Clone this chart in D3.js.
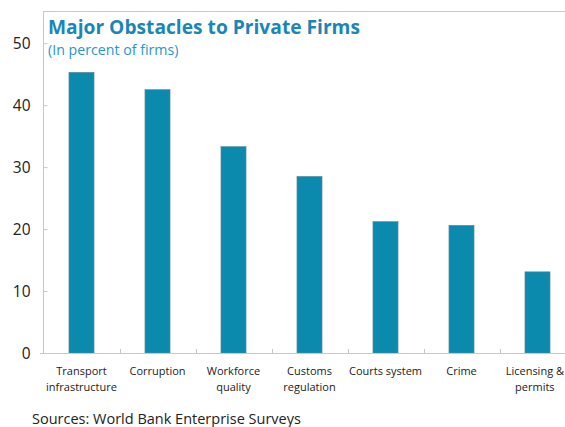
<!DOCTYPE html>
<html><head><meta charset="utf-8">
<script src="https://cdn.jsdelivr.net/npm/d3@7"></script>
<style>body{margin:0;background:#fff;overflow:hidden}svg{display:block}</style>
</head><body>
<script>
const categories = [["Transport","infrastructure"],["Corruption"],["Workforce","quality"],["Customs","regulation"],["Courts system"],["Crime"],["Licensing &","permits"]];
const values = [45.3, 42.5, 33.3, 28.5, 21.2, 20.6, 13.1];
const yTicks = [0,10,20,30,40,50];

const W=565,H=427;
const svg=d3.select("body").append("svg").attr("width",W).attr("height",H);
const font="'Open Sans', 'Noto Sans', sans-serif";
const blue="#1a86b8";
const mLeft=43, mRight=575, mTop=11, mBottom=353;

const y=d3.scaleLinear().domain([0,50]).range([mBottom,43.2]);
const x=d3.scaleBand().domain(d3.range(categories.length)).range([mLeft+0.5,mRight+0.5]).paddingInner(0.67).paddingOuter(0.335);
const step=x.step();

// frame
svg.append("line").attr("x1",mLeft).attr("x2",W).attr("y1",mTop+0.5).attr("y2",mTop+0.5).attr("stroke","#c8c8c8").attr("stroke-width",1);
svg.append("line").attr("x1",mLeft+0.5).attr("x2",mLeft+0.5).attr("y1",mTop).attr("y2",mBottom).attr("stroke","#c8c8c8");

// bars
svg.selectAll("rect.bar").data(values).join("rect")
  .attr("x",(d,i)=>x(i)).attr("width",x.bandwidth())
  .attr("y",d=>y(d)).attr("height",d=>mBottom-y(d))
  .attr("fill","#0b8aad").attr("stroke","#5e8a99").attr("stroke-width",0.6);

// y axis
const ya=svg.append("g").attr("transform",`translate(${mLeft+0.5},0)`)
 .call(d3.axisRight(y).tickValues(yTicks).tickSize(4).tickFormat(d3.format("d")));
ya.select(".domain").remove();
ya.selectAll("line").attr("stroke","#c8c8c8");
ya.selectAll("text").attr("x",-13).attr("text-anchor","end").attr("dy","0.35em")
 .style("font-family",font).style("font-size","15.5px").attr("fill","#222");

// x axis
svg.append("line").attr("x1",40).attr("x2",W).attr("y1",mBottom+0.5).attr("y2",mBottom+0.5).attr("stroke","#c8c8c8");
const bounds=d3.range(categories.length).map(i=>x(i)+x.bandwidth()/2+step/2);
svg.selectAll("line.xt").data(bounds).join("line").attr("class","xt")
 .attr("x1",d=>Math.round(d)+0.5).attr("x2",d=>Math.round(d)+0.5).attr("y1",mBottom).attr("y2",mBottom-4).attr("stroke","#c8c8c8");

svg.selectAll("text.cat").data(categories).join("text").attr("class","cat")
 .attr("x",(d,i)=>x(i)+x.bandwidth()/2).attr("y",375)
 .attr("text-anchor","middle").style("font-family",font).style("font-size","11px").attr("fill","#222")
 .each(function(d){
   const t=d3.select(this);
   d.forEach((s,j)=>t.append("tspan").attr("x",t.attr("x")).attr("dy",j?16:0).text(s));
   // keep the label inside the window
   const bb=this.getBBox();
   const over=bb.x+bb.width-(W-1);
   if(over>0){const nx=+t.attr("x")-over;t.attr("x",nx);t.selectAll("tspan").attr("x",nx);}
 });

// titles
svg.append("text").attr("x",48).attr("y",34).text("Major Obstacles to Private Firms")
 .style("font-family",font).style("font-size","19.2px").style("font-weight","bold").attr("fill",blue);
svg.append("text").attr("x",48).attr("y",55).text("(In percent of firms)")
 .style("font-family",font).style("font-size","14.2px").attr("fill","#2a95c8");

svg.append("text").attr("x",32).attr("y",424).text("Sources: World Bank Enterprise Surveys")
 .style("font-family",font).style("font-size","14.5px").attr("fill","#222");
</script>
</body></html>
